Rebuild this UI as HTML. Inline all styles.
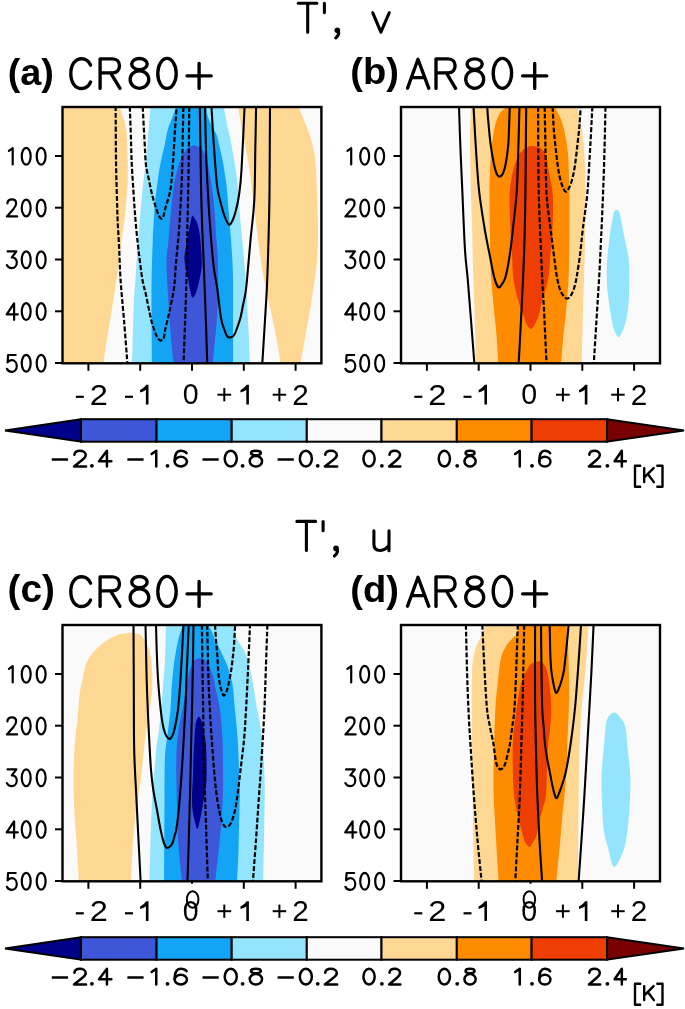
<!DOCTYPE html>
<html><head><meta charset="utf-8"><style>
html,body{margin:0;padding:0;background:#fff;}
svg{display:block;will-change:transform;}
text{font-family:"Liberation Sans",sans-serif;fill:#000;}
.sl{fill:none;stroke:#000;stroke-width:2.1;stroke-linejoin:round;}
.dl{fill:none;stroke:#000;stroke-width:2.2;stroke-dasharray:4.9,2.0;}
.ts{fill:none;stroke:#000;stroke-width:3.1;stroke-linecap:round;}
.ys{fill:none;stroke:#000;stroke-width:2.2;stroke-linecap:round;stroke-linejoin:round;}
.ns{fill:none;stroke:#000;stroke-width:3.35;stroke-linecap:round;stroke-linejoin:round;}
.ks{fill:none;stroke:#000;stroke-width:2.4;stroke-linecap:round;stroke-linejoin:round;}
.fr{fill:none;stroke:#000;stroke-width:2.4;}
.tk{stroke:#000;stroke-width:2;}
.cb{stroke:#000;stroke-width:2;stroke-linejoin:miter;}
.yl{font-size:25px;text-anchor:end;}
.xl{font-size:28px;}
.cl{font-size:21px;}
.kl{font-size:21px;}
.tt{font-size:44px;}
.pl{font-size:37px;font-weight:bold;}
.pn{font-size:42px;}
</style></head><body>
<svg width="685" height="1009" viewBox="0 0 685 1009">
<clipPath id="ca"><rect x="62.5" y="107.0" width="258.9" height="256.3"/></clipPath>
<rect x="62.5" y="107.0" width="258.9" height="256.3" fill="#fafafa"/>
<g clip-path="url(#ca)">
<path d="M40.0,100.0 C40.0,145.0 40.0,325.0 40.0,370.0 L102.8,370.0 C102.9,369.3 102.8,369.5 103.2,366.0 C103.6,362.5 104.0,358.2 105.4,349.0 C106.8,339.8 110.1,320.5 111.6,311.0 C113.1,301.5 113.7,298.0 114.6,292.0 C115.5,286.0 116.2,282.0 117.2,275.0 C118.2,268.0 119.5,257.5 120.5,250.0 C121.5,242.5 122.2,235.8 123.0,230.0 C123.8,224.2 124.5,220.0 125.0,215.0 C125.5,210.0 125.8,205.2 126.3,200.0 C126.8,194.8 127.5,191.2 127.7,184.0 C127.9,176.8 127.9,165.8 127.7,157.0 C127.5,148.2 127.0,137.2 126.4,131.0 C125.8,124.8 125.1,124.0 124.0,120.0 C122.9,116.0 120.5,110.3 119.8,107.0 C119.1,103.7 119.8,101.2 119.8,100.0Z" fill="#fed893"/>
<path d="M150.5,100.0 C150.5,101.2 150.8,101.8 150.5,107.0 C150.2,112.2 149.2,122.2 148.5,131.0 C147.8,139.8 147.1,149.3 146.0,160.0 C144.9,170.7 143.0,185.0 142.0,195.0 C141.0,205.0 140.6,211.5 139.9,220.0 C139.2,228.5 138.4,236.0 137.7,246.0 C137.0,256.0 136.1,271.0 135.5,280.0 C134.9,289.0 134.5,288.5 134.0,300.0 C133.5,311.5 132.9,338.0 132.5,349.0 C132.1,360.0 131.7,362.5 131.5,366.0 C131.3,369.5 131.4,369.3 131.4,370.0 L250.1,370.0 C250.1,369.3 250.2,371.0 250.0,366.0 C249.8,361.0 249.4,349.3 249.0,340.0 C248.6,330.7 248.0,319.2 247.5,310.0 C247.0,300.8 246.7,295.0 246.0,285.0 C245.3,275.0 244.1,260.0 243.2,250.0 C242.3,240.0 241.4,231.7 240.8,225.0 C240.2,218.3 239.9,215.8 239.5,210.0 C239.1,204.2 238.7,195.7 238.2,190.0 C237.7,184.3 237.2,181.2 236.5,176.0 C235.8,170.8 235.0,165.3 233.9,158.8 C232.8,152.3 231.1,142.3 230.0,137.0 C228.9,131.7 228.2,130.5 227.5,127.0 C226.8,123.5 226.2,119.5 225.5,116.0 C224.8,112.5 223.9,108.7 223.6,106.0 C223.3,103.3 223.6,101.0 223.6,100.0Z" fill="#92e5fc"/>
<path d="M176.5,100.0 C176.5,101.0 176.8,104.2 176.5,106.0 C176.2,107.8 175.1,109.4 174.5,111.0 C173.9,112.6 173.7,113.9 173.0,115.7 C172.3,117.5 171.3,120.0 170.5,122.0 C169.7,124.0 169.1,125.2 168.4,127.4 C167.7,129.6 167.1,132.2 166.5,135.0 C165.9,137.8 165.6,140.7 164.9,144.0 C164.2,147.3 163.1,151.5 162.3,155.0 C161.5,158.5 160.9,160.8 160.2,165.0 C159.4,169.2 158.6,174.2 157.8,180.0 C157.0,185.8 156.0,193.0 155.3,200.0 C154.6,207.0 154.1,215.3 153.7,222.0 C153.3,228.7 153.2,228.7 152.8,240.0 C152.4,251.3 151.6,269.0 151.5,290.0 C151.4,311.0 151.9,352.7 152.0,366.0 C152.1,379.3 152.0,369.3 152.0,370.0 L233.0,370.0 C233.0,369.3 233.0,377.7 233.0,366.0 C233.0,354.3 233.0,316.0 233.0,300.0 C233.0,284.0 233.1,280.0 232.8,270.0 C232.5,260.0 231.7,250.0 231.0,240.0 C230.3,230.0 229.2,217.6 228.6,210.0 C228.0,202.4 227.8,199.1 227.4,194.5 C227.0,189.9 226.7,186.6 226.2,182.6 C225.7,178.6 225.1,174.7 224.4,170.7 C223.8,166.7 223.1,162.8 222.3,158.8 C221.5,154.9 220.5,151.0 219.6,147.0 C218.7,143.0 217.9,138.3 216.7,135.0 C215.5,131.7 213.6,129.6 212.5,127.4 C211.4,125.2 210.8,124.0 210.0,122.0 C209.2,120.0 208.2,117.7 207.6,115.7 C207.0,113.7 206.8,111.6 206.5,110.0 C206.2,108.4 205.7,107.7 205.5,106.0 C205.3,104.3 205.5,101.0 205.5,100.0Z" fill="#13a4f6"/>
<path d="M194.0,145.0 C192.7,145.8 188.4,147.0 186.0,150.0 C183.6,153.0 181.3,157.2 179.3,163.0 C177.3,168.8 175.4,177.2 174.0,185.0 C172.6,192.8 171.9,200.8 171.0,210.0 C170.1,219.2 169.2,230.8 168.5,240.0 C167.8,249.2 166.4,253.3 166.5,265.0 C166.6,276.7 168.1,296.3 169.0,310.0 C169.9,323.7 170.9,337.7 171.7,347.0 C172.5,356.3 173.6,362.2 174.0,366.0 C174.4,369.8 174.2,369.3 174.2,370.0 L212.4,370.0 C212.4,369.3 211.8,376.0 212.6,366.0 C213.4,356.0 216.6,326.8 217.5,310.0 C218.4,293.2 218.2,276.7 218.0,265.0 C217.8,253.3 217.1,249.2 216.5,240.0 C215.9,230.8 215.3,219.2 214.5,210.0 C213.7,200.8 212.7,192.8 211.5,185.0 C210.3,177.2 209.0,168.8 207.5,163.0 C206.0,157.2 204.8,153.0 202.5,150.0 C200.2,147.0 195.4,145.8 194.0,145.0Z" fill="#3d57d8"/>
<path d="M192.4,215.4 C193.1,215.1 194.2,217.7 195.0,219.0 C195.8,220.3 196.6,221.1 197.3,223.4 C198.1,225.7 198.9,229.3 199.5,233.0 C200.1,236.7 200.5,240.6 200.9,245.7 C201.3,250.8 201.8,259.1 201.8,263.6 C201.8,268.2 201.2,270.0 200.8,273.0 C200.4,276.0 199.7,278.9 199.1,281.4 C198.5,283.9 198.1,285.9 197.5,288.0 C196.9,290.1 196.3,292.4 195.5,294.0 C194.7,295.6 193.3,298.1 192.4,297.5 C191.5,296.9 190.8,293.1 190.2,290.4 C189.5,287.6 189.1,284.0 188.5,281.0 C187.9,278.0 187.3,276.1 186.6,272.5 C185.9,268.9 184.6,263.1 184.4,259.1 C184.2,255.1 185.2,252.1 185.7,248.4 C186.2,244.7 186.9,240.4 187.5,237.0 C188.1,233.6 188.8,230.6 189.3,227.9 C189.9,225.2 190.3,223.1 190.8,221.0 C191.3,218.9 191.7,215.7 192.4,215.4Z" fill="#00008a"/>
<path d="M238.3,100.0 C238.3,101.2 237.6,101.5 238.3,107.0 C239.0,112.5 240.9,124.2 242.5,133.0 C244.1,141.8 246.4,150.5 248.0,160.0 C249.6,169.5 250.8,180.8 252.0,190.0 C253.2,199.2 254.0,206.7 255.0,215.0 C256.0,223.3 256.9,231.7 258.0,240.0 C259.1,248.3 260.3,257.5 261.5,265.0 C262.7,272.5 263.6,277.8 265.0,285.0 C266.4,292.2 268.4,299.7 270.2,308.0 C272.0,316.3 274.0,325.3 275.8,335.0 C277.6,344.7 280.1,360.2 281.0,366.0 C281.9,371.8 281.4,369.3 281.5,370.0 L299.5,370.0 C299.6,369.3 299.0,371.8 300.0,366.0 C301.0,360.2 303.9,344.7 305.6,335.0 C307.3,325.3 309.0,316.3 310.4,308.0 C311.8,299.7 312.9,292.3 314.0,285.0 C315.1,277.7 316.0,272.3 316.7,264.0 C317.4,255.7 317.9,246.5 318.0,235.0 C318.1,223.5 317.6,207.5 317.2,195.0 C316.8,182.5 316.0,168.0 315.3,160.0 C314.6,152.0 314.1,151.5 313.0,147.0 C311.9,142.5 310.6,137.7 309.0,133.0 C307.4,128.3 305.2,123.3 303.5,119.0 C301.8,114.7 299.8,110.2 299.0,107.0 C298.2,103.8 299.0,101.2 299.0,100.0Z" fill="#fed893"/>
<path d="M199.8,100.0 C199.8,101.0 199.7,97.7 199.8,106.0 C199.9,114.3 200.3,136.8 200.5,150.0 C200.7,163.2 200.7,171.7 201.0,185.0 C201.3,198.3 201.8,216.7 202.3,230.0 C202.8,243.3 203.3,251.7 203.8,265.0 C204.3,278.3 204.9,293.3 205.5,310.0 C206.1,326.7 207.0,355.0 207.3,365.0 C207.6,375.0 207.5,369.2 207.5,370.0" class="sl"/>
<path d="M205.0,100.0 C205.0,101.0 204.8,97.7 205.0,106.0 C205.2,114.3 205.6,136.8 206.0,150.0 C206.4,163.2 206.8,172.5 207.5,185.0 C208.2,197.5 209.0,211.7 210.0,225.0 C211.0,238.3 212.3,254.5 213.5,265.0 C214.7,275.5 215.9,279.2 217.2,288.0 C218.4,296.8 219.8,311.0 221.0,318.0 C222.2,325.0 223.4,326.9 224.5,330.0 C225.6,333.1 226.4,335.6 227.5,336.8 C228.6,338.0 229.9,337.5 231.0,337.3 C232.1,337.1 233.0,336.6 233.8,335.5 C234.6,334.4 234.9,333.9 236.0,331.0 C237.1,328.1 239.3,321.9 240.4,318.0 C241.5,314.1 241.7,311.7 242.5,307.7 C243.3,303.7 244.6,298.3 245.3,294.0 C246.0,289.7 245.9,291.0 246.8,282.0 C247.7,273.0 249.2,253.7 250.5,240.0 C251.8,226.3 253.5,215.0 254.3,200.0 C255.1,185.0 255.0,165.7 255.3,150.0 C255.6,134.3 256.0,114.3 256.1,106.0 C256.2,97.7 256.1,101.0 256.1,100.0" class="sl"/>
<path d="M211.4,100.0 C211.4,101.0 211.1,99.3 211.4,106.0 C211.8,112.7 212.6,126.8 213.5,140.0 C214.4,153.2 215.8,174.7 217.0,185.0 C218.2,195.3 219.2,196.8 220.5,202.0 C221.8,207.2 223.1,212.2 224.5,216.0 C225.9,219.8 227.6,223.8 228.9,224.6 C230.2,225.3 231.3,222.9 232.5,220.5 C233.7,218.1 234.9,214.2 236.0,210.0 C237.1,205.8 238.1,201.7 239.0,195.0 C239.9,188.3 240.6,184.8 241.5,170.0 C242.4,155.2 244.1,117.7 244.6,106.0 C245.1,94.3 244.6,101.0 244.6,100.0" class="sl"/>
<path d="M270.0,100.0 C270.0,101.0 270.1,96.0 270.0,106.0 C269.9,116.0 269.8,144.3 269.7,160.0 C269.6,175.7 269.6,186.7 269.4,200.0 C269.2,213.3 268.9,225.8 268.5,240.0 C268.1,254.2 267.6,271.7 267.0,285.0 C266.4,298.3 265.8,306.7 265.0,320.0 C264.2,333.3 262.7,356.7 262.2,365.0 C261.7,373.3 262.0,369.2 262.0,370.0" class="sl"/>
<path d="M115.6,100.0 C115.6,101.0 115.5,96.0 115.6,106.0 C115.7,116.0 115.8,144.3 116.0,160.0 C116.2,175.7 116.7,190.0 117.0,200.0 C117.3,210.0 117.3,212.5 117.6,220.0 C117.9,227.5 118.5,235.0 119.0,245.0 C119.5,255.0 119.8,267.5 120.6,280.0 C121.4,292.5 122.8,305.8 124.0,320.0 C125.2,334.2 126.9,356.7 127.5,365.0 C128.1,373.3 127.8,369.2 127.8,370.0" class="dl"/>
<path d="M129.8,100.0 C129.8,101.0 129.6,99.3 129.8,106.0 C130.0,112.7 130.7,130.2 131.0,140.0 C131.3,149.8 131.3,155.0 131.8,165.0 C132.3,175.0 133.4,190.8 134.0,200.0 C134.6,209.2 134.8,211.7 135.5,220.0 C136.2,228.3 137.3,240.0 138.5,250.0 C139.7,260.0 141.2,272.5 142.5,280.0 C143.8,287.5 144.6,288.3 146.0,295.0 C147.4,301.7 149.7,313.8 151.2,320.0 C152.7,326.2 153.9,328.9 155.0,332.0 C156.1,335.1 157.0,337.1 158.0,338.5 C159.0,339.9 160.0,340.7 161.0,340.5 C162.0,340.3 163.1,339.4 163.8,337.5 C164.5,335.6 164.4,333.2 165.3,329.0 C166.2,324.8 167.9,318.8 169.3,312.0 C170.8,305.2 172.9,295.8 174.0,288.0 C175.1,280.2 175.0,274.7 175.8,265.0 C176.6,255.3 178.0,243.3 179.0,230.0 C180.0,216.7 181.0,198.3 181.6,185.0 C182.2,171.7 182.2,163.2 182.5,150.0 C182.8,136.8 183.2,114.3 183.4,106.0 C183.6,97.7 183.4,101.0 183.4,100.0" class="dl"/>
<path d="M142.7,100.0 C142.7,101.0 142.4,99.3 142.7,106.0 C143.0,112.7 143.9,130.2 144.5,140.0 C145.1,149.8 145.2,158.3 146.0,165.0 C146.8,171.7 148.0,175.0 149.0,180.0 C150.0,185.0 151.0,190.3 152.2,195.0 C153.4,199.7 154.9,204.6 156.0,208.0 C157.1,211.4 158.0,213.8 158.8,215.5 C159.6,217.2 160.3,218.2 161.0,218.5 C161.7,218.8 162.5,218.7 163.2,217.0 C163.9,215.3 164.4,211.8 165.3,208.4 C166.2,205.0 167.8,200.6 168.8,196.7 C169.8,192.8 170.4,191.1 171.1,185.0 C171.8,178.9 172.5,169.2 173.2,160.0 C173.8,150.8 174.4,139.0 175.0,130.0 C175.6,121.0 176.4,111.0 176.7,106.0 C177.0,101.0 176.7,101.0 176.7,100.0" class="dl"/>
<path d="M189.2,100.0 C189.2,101.0 189.3,97.7 189.2,106.0 C189.1,114.3 189.0,136.8 188.8,150.0 C188.7,163.2 188.6,171.7 188.3,185.0 C188.1,198.3 187.6,216.7 187.3,230.0 C187.1,243.3 187.1,251.7 186.8,265.0 C186.5,278.3 186.1,293.3 185.5,310.0 C184.9,326.7 183.9,355.0 183.5,365.0 C183.1,375.0 183.3,369.2 183.3,370.0" class="dl"/>
</g>
<rect x="62.5" y="107.0" width="258.9" height="256.3" class="fr"/>
<clipPath id="cb"><rect x="401.0" y="107.0" width="259.0" height="256.3"/></clipPath>
<rect x="401.0" y="107.0" width="259.0" height="256.3" fill="#fafafa"/>
<g clip-path="url(#cb)">
<path d="M471.0,100.0 C471.0,101.2 471.2,100.3 471.0,107.0 C470.8,113.7 470.0,125.3 470.0,140.0 C470.0,154.7 470.6,180.0 471.0,195.0 C471.4,210.0 471.9,217.5 472.2,230.0 C472.5,242.5 472.6,256.7 473.0,270.0 C473.4,283.3 474.0,294.0 474.5,310.0 C475.0,326.0 475.7,356.0 476.0,366.0 C476.3,376.0 476.1,369.3 476.1,370.0 L581.6,370.0 C581.6,369.3 581.5,376.0 581.7,366.0 C581.9,356.0 582.6,324.3 583.0,310.0 C583.4,295.7 583.7,291.7 584.0,280.0 C584.3,268.3 584.8,254.2 585.0,240.0 C585.2,225.8 585.6,208.8 585.5,195.0 C585.4,181.2 585.2,167.7 584.6,157.0 C584.0,146.3 583.2,139.3 582.0,131.0 C580.8,122.7 578.2,112.2 577.5,107.0 C576.8,101.8 577.5,101.2 577.5,100.0Z" fill="#fed893"/>
<path d="M507.0,100.0 C506.8,101.2 507.2,104.8 506.0,107.0 C504.8,109.2 501.8,110.0 500.0,113.0 C498.2,116.0 496.5,119.8 495.2,125.0 C493.9,130.2 492.9,136.5 492.0,144.0 C491.1,151.5 490.4,161.5 490.0,170.0 C489.6,178.5 489.5,183.3 489.5,195.0 C489.5,206.7 489.8,226.7 490.0,240.0 C490.2,253.3 490.3,263.3 491.0,275.0 C491.7,286.7 493.1,300.0 494.0,310.0 C494.9,320.0 495.8,325.7 496.5,335.0 C497.2,344.3 498.1,360.2 498.5,366.0 C498.9,371.8 498.7,369.3 498.7,370.0 L560.8,370.0 C560.8,369.3 560.6,371.0 561.0,366.0 C561.4,361.0 562.2,348.5 563.0,340.0 C563.8,331.5 564.8,325.0 565.7,315.0 C566.6,305.0 567.9,290.8 568.5,280.0 C569.1,269.2 569.1,261.7 569.3,250.0 C569.5,238.3 569.6,222.5 569.6,210.0 C569.6,197.5 569.3,184.8 569.0,175.0 C568.7,165.2 568.5,158.3 567.7,151.0 C566.9,143.7 565.6,136.5 564.4,131.0 C563.2,125.5 562.0,122.0 560.4,118.0 C558.8,114.0 555.9,110.0 555.0,107.0 C554.1,104.0 555.0,101.2 555.0,100.0Z" fill="#ff8c00"/>
<path d="M530.9,146.0 C533.7,145.7 537.5,146.5 540.0,148.0 C542.5,149.5 544.6,151.2 546.0,155.0 C547.4,158.8 547.7,165.7 548.6,170.7 C549.5,175.7 550.8,180.1 551.5,185.0 C552.2,189.9 552.8,192.7 553.0,200.0 C553.2,207.3 552.9,219.8 552.5,229.0 C552.1,238.2 551.2,246.5 550.5,255.0 C549.8,263.5 549.4,272.3 548.0,280.0 C546.6,287.7 543.5,295.3 542.0,301.0 C540.5,306.7 540.2,310.6 539.0,314.4 C537.8,318.2 536.4,321.6 535.0,324.0 C533.6,326.4 532.3,329.0 530.9,329.0 C529.5,329.0 527.8,326.4 526.5,324.0 C525.2,321.6 524.4,318.2 523.0,314.4 C521.6,310.6 520.0,306.7 518.4,301.0 C516.8,295.3 514.6,287.7 513.5,280.0 C512.4,272.3 512.5,263.5 512.0,255.0 C511.5,246.5 510.9,238.2 510.5,229.0 C510.1,219.8 509.5,207.3 509.5,200.0 C509.5,192.7 509.9,189.9 510.5,185.0 C511.1,180.1 511.9,175.3 513.1,170.7 C514.3,166.1 515.9,161.0 517.5,157.6 C519.1,154.2 520.8,151.9 523.0,150.0 C525.2,148.1 528.1,146.3 530.9,146.0Z" fill="#ef3e04"/>
<path d="M616.3,210.2 C617.0,210.0 617.6,210.0 618.2,210.6 C618.8,211.2 619.2,212.1 619.8,214.0 C620.3,215.9 621.0,219.3 621.5,222.0 C622.0,224.7 622.3,226.5 623.0,230.0 C623.7,233.5 624.6,238.7 625.5,243.0 C626.4,247.3 627.7,251.8 628.3,256.0 C628.9,260.2 629.1,263.2 629.2,268.0 C629.4,272.8 629.3,279.4 629.2,285.0 C629.1,290.6 629.1,296.4 628.8,301.3 C628.5,306.2 627.9,310.3 627.2,314.4 C626.5,318.5 625.5,322.9 624.5,326.0 C623.5,329.1 622.5,331.1 621.5,333.0 C620.5,334.9 619.6,337.4 618.6,337.4 C617.6,337.4 616.4,334.7 615.5,333.0 C614.6,331.3 614.0,330.1 613.2,327.0 C612.4,323.9 611.5,318.7 610.8,314.4 C610.1,310.1 609.4,306.2 608.8,301.3 C608.2,296.4 607.3,290.2 607.0,285.0 C606.7,279.8 606.7,274.9 606.8,270.0 C606.9,265.1 607.1,260.4 607.5,255.7 C607.9,251.0 608.5,246.3 609.0,242.0 C609.5,237.7 609.9,233.8 610.5,230.0 C611.1,226.2 611.9,222.1 612.5,219.0 C613.1,215.9 613.6,213.0 614.2,211.5 C614.8,210.0 615.6,210.3 616.3,210.2Z" fill="#92e5fc"/>
<path d="M459.0,100.0 C459.0,101.0 458.8,97.7 459.0,106.0 C459.2,114.3 459.9,135.2 460.5,150.0 C461.1,164.8 461.8,178.3 462.5,195.0 C463.2,211.7 464.1,235.8 465.0,250.0 C465.9,264.2 466.8,268.3 467.8,280.0 C468.8,291.7 469.9,305.8 471.0,320.0 C472.1,334.2 473.9,356.7 474.5,365.0 C475.1,373.3 474.7,369.2 474.7,370.0" class="sl"/>
<path d="M473.5,100.0 C473.5,101.0 473.1,97.7 473.5,106.0 C473.9,114.3 475.1,136.0 476.0,150.0 C476.9,164.0 477.6,176.8 479.0,190.0 C480.4,203.2 482.9,218.0 484.7,229.0 C486.5,240.0 488.5,248.8 489.9,256.0 C491.3,263.2 492.0,267.5 493.0,272.0 C494.0,276.5 495.0,280.4 496.0,283.0 C497.0,285.6 498.0,287.3 499.0,287.5 C500.0,287.7 500.9,285.8 502.0,284.0 C503.1,282.2 504.2,281.7 505.5,277.0 C506.8,272.3 508.4,264.0 509.6,256.0 C510.8,248.0 511.8,239.2 512.9,229.0 C514.0,218.8 515.6,206.5 516.5,195.0 C517.4,183.5 517.5,174.8 518.0,160.0 C518.5,145.2 519.2,116.0 519.5,106.0 C519.8,96.0 519.5,101.0 519.5,100.0" class="sl"/>
<path d="M487.3,100.0 C487.3,101.0 487.2,103.0 487.3,106.0 C487.4,109.0 487.4,111.6 488.0,118.0 C488.6,124.4 489.6,136.7 490.6,144.4 C491.6,152.1 492.9,159.2 493.9,164.0 C494.9,168.8 495.6,171.2 496.5,173.3 C497.4,175.4 498.2,176.3 499.1,176.6 C500.0,176.9 501.3,175.8 502.0,175.0 C502.7,174.2 502.9,173.8 503.5,172.0 C504.1,170.2 504.9,168.6 505.7,164.0 C506.5,159.4 507.7,152.1 508.3,144.4 C508.9,136.7 509.1,124.4 509.4,118.0 C509.6,111.6 509.7,109.0 509.8,106.0 C509.9,103.0 509.8,101.0 509.8,100.0" class="sl"/>
<path d="M526.2,100.0 C526.2,101.0 526.3,97.7 526.2,106.0 C526.1,114.3 525.9,135.2 525.8,150.0 C525.7,164.8 525.6,180.0 525.4,195.0 C525.2,210.0 524.9,225.8 524.5,240.0 C524.1,254.2 523.6,266.7 523.0,280.0 C522.4,293.3 521.7,305.8 521.0,320.0 C520.3,334.2 519.0,356.7 518.6,365.0 C518.2,373.3 518.4,369.2 518.4,370.0" class="sl"/>
<path d="M538.1,100.0 C538.1,101.0 538.1,97.7 538.1,106.0 C538.1,114.3 538.2,135.2 538.3,150.0 C538.4,164.8 538.4,180.0 538.8,195.0 C539.2,210.0 539.9,225.8 540.5,240.0 C541.1,254.2 541.6,266.7 542.3,280.0 C543.0,293.3 543.8,305.8 544.5,320.0 C545.2,334.2 546.2,356.7 546.6,365.0 C547.0,373.3 546.8,369.2 546.8,370.0" class="dl"/>
<path d="M544.7,100.0 C544.7,101.0 544.6,97.7 544.7,106.0 C544.8,114.3 545.2,135.2 545.5,150.0 C545.8,164.8 545.8,181.8 546.6,195.0 C547.5,208.2 549.3,218.2 550.6,229.0 C551.9,239.8 553.4,251.5 554.5,260.0 C555.6,268.5 556.4,274.7 557.5,280.0 C558.6,285.3 559.4,288.9 561.0,292.0 C562.6,295.1 565.2,298.4 567.0,298.6 C568.8,298.9 570.7,295.8 572.0,293.5 C573.3,291.2 574.2,288.1 575.0,285.0 C575.8,281.9 576.2,280.0 577.0,275.0 C577.8,270.0 579.0,262.7 580.0,255.0 C581.0,247.3 581.6,239.0 582.8,229.0 C584.0,219.0 586.1,206.5 587.2,195.0 C588.3,183.5 588.6,174.8 589.5,160.0 C590.4,145.2 591.9,116.0 592.4,106.0 C592.9,96.0 592.4,101.0 592.4,100.0" class="dl"/>
<path d="M552.6,100.0 C552.6,101.0 552.5,101.8 552.6,106.0 C552.8,110.2 553.1,118.7 553.5,125.0 C553.9,131.3 554.4,136.4 555.2,144.0 C556.0,151.6 557.4,163.9 558.5,170.7 C559.6,177.5 560.8,181.5 562.0,185.0 C563.2,188.5 564.5,191.4 565.7,191.7 C567.0,192.0 568.4,189.3 569.5,187.0 C570.6,184.7 571.6,181.7 572.5,178.0 C573.4,174.3 574.2,170.7 575.0,165.0 C575.8,159.3 576.8,150.7 577.5,144.0 C578.2,137.3 579.0,131.3 579.5,125.0 C580.0,118.7 580.5,110.2 580.7,106.0 C580.9,101.8 580.7,101.0 580.7,100.0" class="dl"/>
<path d="M605.5,100.0 C605.5,101.0 605.7,97.7 605.5,106.0 C605.3,114.3 604.9,135.2 604.5,150.0 C604.1,164.8 603.6,180.0 603.0,195.0 C602.4,210.0 601.7,225.8 601.0,240.0 C600.3,254.2 599.8,266.7 599.0,280.0 C598.2,293.3 597.4,305.8 596.5,320.0 C595.6,334.2 594.2,356.7 593.7,365.0 C593.2,373.3 593.5,369.2 593.5,370.0" class="dl"/>
</g>
<rect x="401.0" y="107.0" width="259.0" height="256.3" class="fr"/>
<clipPath id="cc"><rect x="62.5" y="625.0" width="258.9" height="256.3"/></clipPath>
<rect x="62.5" y="625.0" width="258.9" height="256.3" fill="#fafafa"/>
<g clip-path="url(#cc)">
<path d="M130.5,632.8 C132.0,632.8 133.3,632.8 135.0,633.2 C136.7,633.6 138.9,633.3 140.8,635.1 C142.8,636.9 145.2,641.2 146.7,643.9 C148.2,646.6 148.8,647.6 149.6,651.2 C150.4,654.9 151.3,660.9 151.8,665.8 C152.3,670.7 152.5,675.5 152.5,680.4 C152.5,685.3 152.3,690.1 151.8,695.0 C151.3,699.9 150.3,705.1 149.6,709.6 C148.9,714.1 148.2,717.8 147.5,722.0 C146.8,726.2 146.0,731.0 145.5,735.0 C145.0,739.0 145.0,739.3 144.3,746.0 C143.6,752.7 142.1,767.7 141.3,775.0 C140.5,782.3 140.0,785.3 139.3,790.0 C138.6,794.7 137.8,797.2 137.0,803.0 C136.2,808.8 135.2,817.2 134.5,825.0 C133.8,832.8 133.1,840.2 132.5,850.0 C131.9,859.8 131.2,877.3 131.0,884.0 C130.8,890.7 139.7,889.0 131.0,890.0 C122.3,891.0 87.7,891.0 79.0,890.0 C70.3,889.0 79.4,892.2 79.0,884.0 C78.6,875.8 77.3,853.5 76.5,841.0 C75.7,828.5 74.7,819.7 74.2,809.0 C73.7,798.3 73.5,786.8 73.5,777.0 C73.5,767.2 74.1,757.8 74.5,750.0 C74.9,742.2 75.5,734.7 76.0,730.0 C76.5,725.3 76.7,727.8 77.3,722.0 C77.9,716.2 78.7,701.9 79.5,695.0 C80.3,688.1 81.4,685.3 82.4,680.4 C83.4,675.5 84.2,669.7 85.4,665.8 C86.6,661.9 88.0,659.7 89.7,657.0 C91.4,654.3 92.9,652.4 95.6,649.7 C98.3,647.0 102.1,643.4 105.8,641.0 C109.5,638.6 114.1,636.4 117.5,635.1 C120.9,633.8 123.8,633.6 126.0,633.2 C128.2,632.8 129.0,632.8 130.5,632.8Z" fill="#fed893"/>
<path d="M166.0,618.0 C166.0,619.2 166.2,618.0 166.0,625.0 C165.8,632.0 165.5,650.2 165.0,660.0 C164.5,669.8 163.8,676.5 163.2,684.0 C162.6,691.5 162.2,697.3 161.5,705.0 C160.8,712.7 159.8,723.3 159.0,730.0 C158.2,736.7 157.3,740.2 156.7,745.0 C156.1,749.8 155.9,753.2 155.4,759.0 C154.9,764.8 154.1,772.3 153.5,780.0 C152.9,787.7 152.3,795.0 151.8,805.0 C151.3,815.0 150.9,826.8 150.5,840.0 C150.1,853.2 149.7,875.7 149.5,884.0 C149.3,892.3 149.5,889.0 149.5,890.0 L263.2,890.0 C263.2,889.0 263.1,892.3 263.2,884.0 C263.3,875.7 263.8,853.2 264.0,840.0 C264.2,826.8 264.5,815.0 264.6,805.0 C264.7,795.0 264.8,788.9 264.6,780.0 C264.4,771.1 263.8,759.9 263.2,751.6 C262.6,743.3 261.9,736.6 261.0,730.0 C260.1,723.4 259.3,721.1 257.7,712.0 C256.1,702.9 253.4,685.0 251.4,675.5 C249.4,666.0 247.6,659.7 245.9,654.7 C244.2,649.7 242.7,648.5 241.0,645.5 C239.3,642.5 237.1,640.4 236.0,637.0 C234.9,633.6 234.8,628.2 234.5,625.0 C234.2,621.8 234.5,619.2 234.5,618.0Z" fill="#92e5fc"/>
<path d="M182.8,618.0 C182.8,619.2 183.4,622.2 182.8,625.0 C182.2,627.8 180.5,631.5 179.5,635.0 C178.5,638.5 177.7,641.8 176.9,646.0 C176.1,650.2 175.2,655.6 174.5,660.0 C173.8,664.4 173.5,667.6 173.0,672.6 C172.5,677.6 171.9,683.8 171.5,690.0 C171.1,696.2 171.1,702.5 170.4,710.0 C169.7,717.5 168.4,727.2 167.5,735.0 C166.6,742.8 165.5,746.2 165.0,757.0 C164.5,767.8 164.6,778.8 164.5,800.0 C164.4,821.2 164.2,869.0 164.2,884.0 C164.1,899.0 164.2,889.0 164.2,890.0 L236.9,890.0 C236.9,889.0 236.6,890.7 236.9,884.0 C237.2,877.3 238.1,863.2 238.5,850.0 C238.9,836.8 239.4,815.0 239.6,805.0 C239.8,795.0 240.1,800.0 239.8,790.0 C239.5,780.0 238.6,756.7 238.0,745.0 C237.4,733.3 236.6,726.7 236.0,720.0 C235.4,713.3 235.0,710.7 234.5,705.0 C234.0,699.3 233.5,690.8 232.8,686.0 C232.1,681.2 231.4,679.3 230.5,676.0 C229.6,672.7 228.7,669.2 227.5,666.0 C226.3,662.8 225.0,660.3 223.5,657.0 C222.0,653.7 219.8,649.2 218.3,646.0 C216.8,642.8 215.7,640.7 214.5,638.0 C213.3,635.3 212.1,632.2 211.0,630.0 C209.9,627.8 208.5,627.0 208.0,625.0 C207.5,623.0 208.0,619.2 208.0,618.0Z" fill="#13a4f6"/>
<path d="M200.0,658.0 C199.0,658.5 195.8,658.6 194.0,661.0 C192.2,663.4 190.7,667.8 189.4,672.6 C188.1,677.4 187.2,683.8 186.0,690.0 C184.8,696.2 183.8,703.3 182.5,710.0 C181.2,716.7 179.5,722.1 178.5,730.0 C177.5,737.9 176.6,745.9 176.3,757.6 C176.0,769.3 176.6,785.8 176.9,800.0 C177.2,814.2 177.3,828.6 178.2,842.6 C179.1,856.6 181.5,876.1 182.2,884.0 C182.9,891.9 182.3,889.0 182.3,890.0 L214.9,890.0 C214.9,889.0 214.2,891.9 215.0,884.0 C215.8,876.1 218.5,853.3 219.6,842.6 C220.7,831.9 220.9,827.9 221.5,820.0 C222.1,812.1 222.7,803.3 222.9,795.0 C223.2,786.7 223.1,779.2 223.0,770.0 C222.9,760.8 223.0,750.0 222.5,740.0 C222.0,730.0 221.1,718.3 220.0,710.0 C218.9,701.7 217.4,696.2 216.0,690.0 C214.6,683.8 213.5,677.4 211.8,672.6 C210.1,667.8 208.0,663.4 206.0,661.0 C204.0,658.6 201.0,658.5 200.0,658.0Z" fill="#3d57d8"/>
<path d="M198.6,716.8 C199.7,716.3 201.1,719.6 202.0,722.0 C202.9,724.4 203.2,727.5 203.9,731.3 C204.6,735.1 205.6,740.6 206.0,745.0 C206.4,749.4 206.4,751.8 206.5,757.6 C206.6,763.4 206.8,773.8 206.5,780.0 C206.2,786.2 205.2,790.0 204.5,795.0 C203.8,800.0 202.8,805.5 202.0,810.0 C201.2,814.5 200.3,818.8 199.5,822.0 C198.7,825.2 198.1,829.0 197.3,829.0 C196.6,829.0 195.8,825.2 195.0,822.0 C194.2,818.8 193.0,814.5 192.5,810.0 C192.0,805.5 191.9,800.8 192.0,795.0 C192.1,789.2 192.8,781.2 193.0,775.0 C193.2,768.8 193.2,763.4 193.4,757.6 C193.6,751.8 194.0,745.4 194.3,740.0 C194.7,734.6 194.8,728.9 195.5,725.0 C196.2,721.1 197.5,717.3 198.6,716.8Z" fill="#00008a"/>
<path d="M133.5,618.0 C133.5,619.0 133.4,612.0 133.5,624.0 C133.6,636.0 133.7,669.0 133.8,690.0 C133.9,711.0 133.8,731.7 134.2,750.0 C134.6,768.3 135.8,785.0 136.5,800.0 C137.2,815.0 137.8,826.2 138.5,840.0 C139.2,853.8 140.3,874.7 140.7,883.0 C141.1,891.3 140.9,888.8 140.9,890.0" class="sl"/>
<path d="M145.5,618.0 C145.5,619.0 145.2,612.0 145.5,624.0 C145.8,636.0 146.3,669.8 147.0,690.0 C147.7,710.2 148.8,731.7 149.5,745.0 C150.2,758.3 150.4,762.5 151.0,770.0 C151.6,777.5 152.3,783.3 153.3,790.0 C154.3,796.7 155.8,803.4 157.0,810.0 C158.2,816.6 159.4,824.0 160.5,829.4 C161.6,834.8 162.8,839.5 163.8,842.6 C164.8,845.7 165.5,847.1 166.5,847.8 C167.5,848.4 169.0,847.3 170.0,846.5 C171.0,845.7 171.8,844.8 172.5,843.0 C173.2,841.2 173.9,838.3 174.5,836.0 C175.1,833.7 175.6,833.4 176.3,829.4 C177.0,825.4 177.9,817.7 178.5,812.0 C179.1,806.3 179.3,803.7 180.0,795.0 C180.7,786.3 181.6,775.0 182.5,760.0 C183.4,745.0 184.8,720.0 185.5,705.0 C186.2,690.0 186.2,683.5 186.8,670.0 C187.4,656.5 188.5,632.7 188.8,624.0 C189.1,615.3 188.8,619.0 188.8,618.0" class="sl"/>
<path d="M156.0,618.0 C156.0,619.0 155.8,615.3 156.0,624.0 C156.2,632.7 156.8,656.0 157.5,670.0 C158.2,684.0 159.5,698.3 160.5,708.0 C161.5,717.7 162.4,723.2 163.5,728.0 C164.6,732.8 165.8,735.2 167.0,737.0 C168.2,738.8 169.3,739.2 170.4,738.5 C171.5,737.8 172.6,735.8 173.5,733.0 C174.4,730.2 175.2,726.2 176.0,722.0 C176.8,717.8 177.4,715.0 178.2,708.0 C178.9,701.0 179.6,694.0 180.5,680.0 C181.4,666.0 183.0,634.3 183.5,624.0 C184.0,613.7 183.5,619.0 183.5,618.0" class="sl"/>
<path d="M193.5,618.0 C193.5,619.0 193.6,615.3 193.5,624.0 C193.4,632.7 193.1,655.7 192.8,670.0 C192.6,684.3 192.3,696.7 192.0,710.0 C191.7,723.3 191.3,735.8 191.0,750.0 C190.7,764.2 190.4,780.0 190.0,795.0 C189.6,810.0 189.2,825.3 188.8,840.0 C188.4,854.7 187.7,874.7 187.4,883.0 C187.2,891.3 187.3,888.8 187.3,890.0" class="sl"/>
<path d="M201.9,618.0 C201.9,619.0 201.8,615.3 201.9,624.0 C202.0,632.7 202.3,655.7 202.5,670.0 C202.7,684.3 202.9,695.0 203.2,710.0 C203.4,725.0 203.7,745.0 204.0,760.0 C204.3,775.0 204.8,786.7 205.2,800.0 C205.6,813.3 206.1,826.2 206.5,840.0 C206.9,853.8 207.6,874.7 207.8,883.0 C208.0,891.3 207.9,888.8 207.9,890.0" class="dl"/>
<path d="M215.0,618.0 C215.0,619.0 214.8,620.3 215.0,624.0 C215.2,627.7 215.6,634.8 216.0,640.0 C216.4,645.2 216.9,649.6 217.3,655.0 C217.7,660.4 217.9,668.1 218.3,672.6 C218.7,677.1 219.1,679.4 219.5,682.0 C219.9,684.6 220.2,686.2 220.9,688.5 C221.6,690.8 222.7,694.9 223.6,695.5 C224.5,696.1 225.5,693.6 226.3,692.0 C227.1,690.4 227.4,688.9 228.2,685.7 C228.9,682.5 230.1,676.9 230.8,672.6 C231.5,668.3 232.0,664.6 232.5,660.0 C233.0,655.4 233.6,651.0 234.0,645.0 C234.4,639.0 235.0,628.5 235.2,624.0 C235.4,619.5 235.2,619.0 235.2,618.0" class="dl"/>
<path d="M207.2,618.0 C207.2,619.0 207.0,615.3 207.2,624.0 C207.4,632.7 207.8,656.0 208.2,670.0 C208.6,684.0 209.1,694.7 209.8,708.0 C210.5,721.3 211.5,736.3 212.5,750.0 C213.5,763.7 214.8,779.7 216.0,790.0 C217.2,800.3 218.4,806.5 219.5,812.0 C220.6,817.5 221.4,820.5 222.5,823.0 C223.6,825.5 224.8,827.0 226.2,827.0 C227.6,827.0 229.5,825.8 231.0,823.0 C232.5,820.2 233.9,814.7 235.0,810.0 C236.1,805.3 236.6,801.7 237.5,795.0 C238.4,788.3 239.4,779.2 240.5,770.0 C241.6,760.8 243.1,749.7 244.0,740.0 C244.9,730.3 245.2,723.7 245.9,712.0 C246.6,700.3 247.3,684.7 248.0,670.0 C248.7,655.3 249.7,632.7 250.0,624.0 C250.3,615.3 250.0,619.0 250.0,618.0" class="dl"/>
<path d="M267.4,618.0 C267.4,619.0 267.7,615.3 267.4,624.0 C267.1,632.7 266.3,655.3 265.8,670.0 C265.3,684.7 265.0,697.0 264.3,712.0 C263.6,727.0 262.4,745.3 261.5,760.0 C260.6,774.7 259.6,786.7 258.7,800.0 C257.8,813.3 257.0,826.2 256.0,840.0 C255.0,853.8 253.4,874.7 252.8,883.0 C252.2,891.3 252.6,888.8 252.6,890.0" class="dl"/>
</g>
<rect x="62.5" y="625.0" width="258.9" height="256.3" class="fr"/>
<clipPath id="cd"><rect x="401.0" y="625.0" width="259.0" height="256.3"/></clipPath>
<rect x="401.0" y="625.0" width="259.0" height="256.3" fill="#fafafa"/>
<g clip-path="url(#cd)">
<path d="M486.0,618.0 C485.9,619.2 486.1,622.5 485.5,625.0 C484.9,627.5 483.1,630.7 482.2,633.0 C481.2,635.3 480.6,637.2 479.8,639.0 C479.0,640.8 477.9,642.3 477.2,644.0 C476.5,645.7 476.0,647.0 475.4,649.0 C474.8,651.0 474.1,653.5 473.6,656.0 C473.1,658.5 472.8,660.0 472.5,664.0 C472.2,668.0 472.0,674.0 471.9,680.0 C471.8,686.0 471.7,693.3 471.7,700.0 C471.7,706.7 471.8,710.0 471.9,720.0 C472.0,730.0 472.1,747.5 472.2,760.0 C472.3,772.5 472.4,781.7 472.6,795.0 C472.8,808.3 473.1,825.2 473.3,840.0 C473.5,854.8 473.9,875.7 474.0,884.0 C474.1,892.3 474.0,889.0 474.0,890.0 L577.8,890.0 C577.8,889.0 577.7,892.3 577.8,884.0 C577.9,875.7 578.1,854.8 578.2,840.0 C578.4,825.2 578.5,810.0 578.7,795.0 C578.9,780.0 579.0,764.2 579.5,750.0 C580.0,735.8 580.8,720.8 581.5,710.0 C582.2,699.2 583.2,693.5 584.0,685.0 C584.8,676.5 585.8,666.5 586.4,659.0 C587.0,651.5 587.1,645.7 587.5,640.0 C587.9,634.3 588.3,628.7 588.5,625.0 C588.7,621.3 588.5,619.2 588.5,618.0Z" fill="#fed893"/>
<path d="M519.0,618.0 C518.9,619.2 518.9,622.3 518.5,625.0 C518.1,627.7 517.8,631.5 516.5,634.0 C515.2,636.5 512.8,638.0 511.0,640.0 C509.2,642.0 507.7,643.1 506.0,646.3 C504.3,649.5 502.1,652.8 500.7,659.4 C499.3,666.0 498.3,677.6 497.4,686.0 C496.5,694.4 495.9,699.3 495.3,710.0 C494.7,720.7 494.3,736.7 494.0,750.0 C493.7,763.3 493.2,776.7 493.5,790.0 C493.8,803.3 494.6,814.3 495.5,830.0 C496.4,845.7 498.2,874.0 498.8,884.0 C499.4,894.0 499.0,889.0 499.0,890.0 L556.0,890.0 C556.0,889.0 555.3,893.0 556.1,884.0 C556.9,875.0 559.6,847.5 560.7,836.0 C561.8,824.5 561.9,821.8 562.5,815.0 C563.1,808.2 563.8,802.5 564.5,795.0 C565.2,787.5 566.0,779.2 566.5,770.0 C567.0,760.8 567.1,750.0 567.5,740.0 C567.9,730.0 568.5,718.3 568.8,710.0 C569.1,701.7 569.2,698.3 569.2,690.0 C569.2,681.7 568.8,667.5 568.6,660.0 C568.4,652.5 568.3,650.8 568.0,645.0 C567.7,639.2 566.8,629.5 566.6,625.0 C566.4,620.5 566.6,619.2 566.6,618.0Z" fill="#ff8c00"/>
<path d="M537.5,661.4 C539.5,661.2 541.3,661.1 543.0,663.0 C544.7,664.9 546.4,668.1 547.6,672.6 C548.8,677.1 549.4,683.8 550.0,690.0 C550.6,696.2 551.3,703.3 551.3,710.0 C551.3,716.7 550.5,724.2 550.0,730.0 C549.5,735.8 548.7,738.3 548.2,745.0 C547.7,751.7 547.4,761.7 547.0,770.0 C546.6,778.3 546.7,788.7 546.0,795.0 C545.3,801.3 544.0,804.2 543.0,808.0 C542.0,811.8 541.1,813.3 540.0,818.0 C538.9,822.7 537.5,831.8 536.2,836.0 C535.0,840.2 533.6,841.2 532.5,843.0 C531.4,844.8 530.8,847.2 529.5,847.0 C528.2,846.8 526.1,843.8 525.0,842.0 C523.9,840.2 524.3,840.3 523.1,836.0 C521.9,831.7 519.3,822.8 517.8,816.0 C516.3,809.2 514.8,802.7 514.0,795.0 C513.2,787.3 513.0,779.2 512.8,770.0 C512.6,760.8 512.4,750.0 513.0,740.0 C513.6,730.0 515.3,719.0 516.5,710.0 C517.7,701.0 518.9,692.2 520.4,686.0 C521.9,679.8 523.9,676.3 525.7,672.6 C527.5,668.9 529.0,665.9 531.0,664.0 C533.0,662.1 535.5,661.6 537.5,661.4Z" fill="#ef3e04"/>
<path d="M614.2,712.6 C616.4,712.6 618.9,715.7 620.8,718.2 C622.7,720.7 624.4,722.9 625.5,727.6 C626.6,732.3 626.6,738.5 627.4,746.4 C628.2,754.2 629.8,765.3 630.2,774.7 C630.6,784.1 630.3,793.5 629.8,802.9 C629.3,812.3 628.4,823.3 627.4,831.1 C626.4,838.9 625.8,843.9 623.6,849.9 C621.4,855.9 616.7,866.9 614.2,866.9 C611.7,866.9 610.3,855.9 608.6,849.9 C606.9,843.9 605.0,838.9 603.9,831.1 C602.8,823.3 602.4,812.3 602.0,802.9 C601.6,793.5 601.3,784.1 601.6,774.7 C601.9,765.3 603.2,754.2 603.9,746.4 C604.6,738.5 605.1,732.3 605.7,727.6 C606.3,722.9 606.2,720.7 607.6,718.2 C609.0,715.7 612.0,712.6 614.2,712.6Z" fill="#92e5fc"/>
<path d="M535.1,618.0 C535.1,619.0 535.1,615.3 535.1,624.0 C535.1,632.7 535.0,655.7 535.0,670.0 C535.0,684.3 535.0,696.7 535.2,710.0 C535.4,723.3 535.6,735.8 536.0,750.0 C536.4,764.2 536.7,780.0 537.3,795.0 C537.9,810.0 538.7,825.3 539.5,840.0 C540.3,854.7 541.7,874.7 542.2,883.0 C542.7,891.3 542.3,888.8 542.3,890.0" class="sl"/>
<path d="M541.0,618.0 C541.0,619.0 540.9,615.3 541.0,624.0 C541.1,632.7 541.3,656.0 541.5,670.0 C541.7,684.0 541.9,698.8 542.2,708.0 C542.5,717.2 543.0,719.0 543.5,725.0 C544.0,731.0 544.4,738.5 545.0,744.0 C545.6,749.5 546.2,753.5 547.0,758.0 C547.8,762.5 548.7,766.3 549.6,771.0 C550.5,775.7 551.4,781.5 552.5,786.0 C553.6,790.5 554.9,797.0 556.1,798.0 C557.3,799.0 558.4,794.7 559.5,792.0 C560.6,789.3 561.9,785.5 563.0,782.0 C564.1,778.5 564.7,777.3 566.0,771.0 C567.3,764.7 569.1,754.5 570.6,744.0 C572.1,733.5 573.8,720.3 575.0,708.0 C576.2,695.7 577.0,684.0 578.0,670.0 C579.0,656.0 580.6,632.7 581.1,624.0 C581.6,615.3 581.1,619.0 581.1,618.0" class="sl"/>
<path d="M549.6,618.0 C549.6,619.0 549.5,620.3 549.6,624.0 C549.7,627.7 549.9,634.2 550.0,640.0 C550.1,645.8 550.2,653.7 550.5,659.0 C550.8,664.3 551.1,668.5 551.5,672.0 C551.9,675.5 552.3,677.3 552.8,680.0 C553.3,682.7 553.8,685.9 554.3,688.0 C554.8,690.1 555.5,692.4 556.1,692.8 C556.7,693.2 557.4,691.7 558.0,690.5 C558.6,689.3 559.3,687.4 560.0,685.5 C560.7,683.6 561.3,681.6 562.0,679.0 C562.7,676.4 563.5,673.3 564.0,670.0 C564.5,666.7 564.8,664.0 565.3,659.0 C565.8,654.0 566.7,645.8 567.2,640.0 C567.8,634.2 568.4,627.7 568.6,624.0 C568.8,620.3 568.6,619.0 568.6,618.0" class="sl"/>
<path d="M593.6,618.0 C593.6,619.0 594.0,615.3 593.6,624.0 C593.2,632.7 592.2,655.7 591.5,670.0 C590.8,684.3 590.0,696.7 589.3,710.0 C588.5,723.3 587.8,735.8 587.0,750.0 C586.2,764.2 585.3,780.0 584.4,795.0 C583.5,810.0 582.5,825.3 581.5,840.0 C580.5,854.7 579.0,874.7 578.5,883.0 C578.0,891.3 578.4,888.8 578.4,890.0" class="sl"/>
<path d="M465.9,618.0 C465.9,619.0 465.7,615.3 465.9,624.0 C466.1,632.7 466.6,655.7 467.0,670.0 C467.4,684.3 467.9,696.7 468.5,710.0 C469.1,723.3 469.9,735.8 470.8,750.0 C471.7,764.2 472.7,780.0 473.8,795.0 C474.9,810.0 476.2,825.3 477.5,840.0 C478.8,854.7 481.0,874.7 481.7,883.0 C482.4,891.3 481.9,888.8 481.9,890.0" class="dl"/>
<path d="M482.3,618.0 C482.3,619.0 481.9,615.3 482.3,624.0 C482.7,632.7 483.7,656.0 484.5,670.0 C485.3,684.0 486.0,698.5 486.9,708.0 C487.8,717.5 488.9,721.0 490.0,727.0 C491.1,733.0 492.7,739.2 493.5,744.0 C494.3,748.8 494.4,752.4 495.0,756.0 C495.6,759.6 496.1,763.3 497.0,765.5 C497.9,767.7 499.4,769.4 500.7,769.4 C501.9,769.4 503.4,767.6 504.5,765.5 C505.6,763.4 506.3,759.6 507.0,757.0 C507.7,754.4 508.2,752.2 508.7,750.0 C509.2,747.8 509.3,748.2 509.9,744.0 C510.5,739.8 511.7,731.0 512.5,725.0 C513.3,719.0 513.9,717.2 514.5,708.0 C515.1,698.8 515.7,684.0 516.2,670.0 C516.8,656.0 517.5,632.7 517.8,624.0 C518.1,615.3 517.8,619.0 517.8,618.0" class="dl"/>
<path d="M524.2,618.0 C524.2,619.0 524.4,615.3 524.2,624.0 C524.1,632.7 523.6,655.7 523.3,670.0 C523.0,684.3 522.8,696.7 522.4,710.0 C522.0,723.3 521.6,735.8 521.2,750.0 C520.8,764.2 520.4,780.0 519.8,795.0 C519.2,810.0 518.3,825.3 517.5,840.0 C516.7,854.7 515.6,874.7 515.2,883.0 C514.8,891.3 515.1,888.8 515.1,890.0" class="dl"/>
</g>
<rect x="401.0" y="625.0" width="259.0" height="256.3" class="fr"/>
<line x1="55.0" y1="156.0" x2="62.5" y2="156.0" class="tk"/>
<ellipse cx="26.20" cy="156.25" rx="4.45" ry="8.4" class="ys"/>
<ellipse cx="41.15" cy="156.25" rx="4.45" ry="8.4" class="ys"/>
<path d="M8.9,150.8 L12.7,148.1 V164.5" class="ys"/>
<line x1="55.0" y1="207.7" x2="62.5" y2="207.7" class="tk"/>
<ellipse cx="26.20" cy="207.95" rx="4.45" ry="8.4" class="ys"/>
<ellipse cx="41.15" cy="207.95" rx="4.45" ry="8.4" class="ys"/>
<path d="M7.4,203.4 C7.6,200.9 9.5,199.4 11.9,199.4 C14.4,199.4 16.1,201.1 16.1,203.4 C16.1,205.6 15.0,207.1 13.5,208.9 L6.9,216.4 H17.1" class="ys"/>
<line x1="55.0" y1="259.5" x2="62.5" y2="259.5" class="tk"/>
<ellipse cx="26.20" cy="259.75" rx="4.45" ry="8.4" class="ys"/>
<ellipse cx="41.15" cy="259.75" rx="4.45" ry="8.4" class="ys"/>
<path d="M7.6,251.4 H16.4 L11.8,257.4 C14.8,257.3 16.8,259.5 16.8,262.5 C16.8,265.8 14.6,268.1 11.7,268.1 C9.5,268.1 7.7,266.9 6.9,265.1" class="ys"/>
<line x1="55.0" y1="311.3" x2="62.5" y2="311.3" class="tk"/>
<ellipse cx="26.20" cy="311.55" rx="4.45" ry="8.4" class="ys"/>
<ellipse cx="41.15" cy="311.55" rx="4.45" ry="8.4" class="ys"/>
<path d="M14.1,319.8 V303.4 L6.7,314.3 H17.8" class="ys"/>
<line x1="55.0" y1="363.0" x2="62.5" y2="363.0" class="tk"/>
<ellipse cx="26.20" cy="363.25" rx="4.45" ry="8.4" class="ys"/>
<ellipse cx="41.15" cy="363.25" rx="4.45" ry="8.4" class="ys"/>
<path d="M15.7,355.0 H8.1 L7.6,362.4 C8.7,360.9 10.0,360.1 11.7,360.1 C14.7,360.1 16.8,362.8 16.8,366.1 C16.8,369.5 14.6,371.9 11.6,371.9 C9.4,371.9 7.7,370.6 6.9,368.8" class="ys"/>
<line x1="88.4" y1="363.3" x2="88.4" y2="370.8" class="tk"/>
<line x1="140.2" y1="363.3" x2="140.2" y2="370.8" class="tk"/>
<line x1="192.0" y1="363.3" x2="192.0" y2="370.8" class="tk"/>
<line x1="243.8" y1="363.3" x2="243.8" y2="370.8" class="tk"/>
<line x1="295.6" y1="363.3" x2="295.6" y2="370.8" class="tk"/>
<line x1="393.5" y1="156.0" x2="401.0" y2="156.0" class="tk"/>
<ellipse cx="364.70" cy="156.25" rx="4.45" ry="8.4" class="ys"/>
<ellipse cx="379.65" cy="156.25" rx="4.45" ry="8.4" class="ys"/>
<path d="M347.4,150.8 L351.2,148.1 V164.5" class="ys"/>
<line x1="393.5" y1="207.7" x2="401.0" y2="207.7" class="tk"/>
<ellipse cx="364.70" cy="207.95" rx="4.45" ry="8.4" class="ys"/>
<ellipse cx="379.65" cy="207.95" rx="4.45" ry="8.4" class="ys"/>
<path d="M345.9,203.4 C346.1,200.9 348.0,199.4 350.4,199.4 C352.9,199.4 354.6,201.1 354.6,203.4 C354.6,205.6 353.5,207.1 352.0,208.9 L345.4,216.4 H355.6" class="ys"/>
<line x1="393.5" y1="259.5" x2="401.0" y2="259.5" class="tk"/>
<ellipse cx="364.70" cy="259.75" rx="4.45" ry="8.4" class="ys"/>
<ellipse cx="379.65" cy="259.75" rx="4.45" ry="8.4" class="ys"/>
<path d="M346.1,251.4 H354.9 L350.3,257.4 C353.3,257.3 355.3,259.5 355.3,262.5 C355.3,265.8 353.1,268.1 350.2,268.1 C348.0,268.1 346.2,266.9 345.4,265.1" class="ys"/>
<line x1="393.5" y1="311.3" x2="401.0" y2="311.3" class="tk"/>
<ellipse cx="364.70" cy="311.55" rx="4.45" ry="8.4" class="ys"/>
<ellipse cx="379.65" cy="311.55" rx="4.45" ry="8.4" class="ys"/>
<path d="M352.6,319.8 V303.4 L345.2,314.3 H356.3" class="ys"/>
<line x1="393.5" y1="363.0" x2="401.0" y2="363.0" class="tk"/>
<ellipse cx="364.70" cy="363.25" rx="4.45" ry="8.4" class="ys"/>
<ellipse cx="379.65" cy="363.25" rx="4.45" ry="8.4" class="ys"/>
<path d="M354.2,355.0 H346.6 L346.1,362.4 C347.2,360.9 348.5,360.1 350.2,360.1 C353.2,360.1 355.3,362.8 355.3,366.1 C355.3,369.5 353.1,371.9 350.1,371.9 C347.9,371.9 346.2,370.6 345.4,368.8" class="ys"/>
<line x1="426.9" y1="363.3" x2="426.9" y2="370.8" class="tk"/>
<line x1="478.7" y1="363.3" x2="478.7" y2="370.8" class="tk"/>
<line x1="530.5" y1="363.3" x2="530.5" y2="370.8" class="tk"/>
<line x1="582.3" y1="363.3" x2="582.3" y2="370.8" class="tk"/>
<line x1="634.1" y1="363.3" x2="634.1" y2="370.8" class="tk"/>
<line x1="55.0" y1="674.0" x2="62.5" y2="674.0" class="tk"/>
<ellipse cx="26.20" cy="674.25" rx="4.45" ry="8.4" class="ys"/>
<ellipse cx="41.15" cy="674.25" rx="4.45" ry="8.4" class="ys"/>
<path d="M8.9,668.8 L12.7,666.1 V682.5" class="ys"/>
<line x1="55.0" y1="725.7" x2="62.5" y2="725.7" class="tk"/>
<ellipse cx="26.20" cy="725.95" rx="4.45" ry="8.4" class="ys"/>
<ellipse cx="41.15" cy="725.95" rx="4.45" ry="8.4" class="ys"/>
<path d="M7.4,721.4 C7.6,718.9 9.5,717.4 11.9,717.4 C14.4,717.4 16.1,719.1 16.1,721.4 C16.1,723.6 15.0,725.1 13.5,726.9 L6.9,734.4 H17.1" class="ys"/>
<line x1="55.0" y1="777.5" x2="62.5" y2="777.5" class="tk"/>
<ellipse cx="26.20" cy="777.75" rx="4.45" ry="8.4" class="ys"/>
<ellipse cx="41.15" cy="777.75" rx="4.45" ry="8.4" class="ys"/>
<path d="M7.6,769.4 H16.4 L11.8,775.4 C14.8,775.3 16.8,777.5 16.8,780.5 C16.8,783.8 14.6,786.1 11.7,786.1 C9.5,786.1 7.7,784.9 6.9,783.1" class="ys"/>
<line x1="55.0" y1="829.3" x2="62.5" y2="829.3" class="tk"/>
<ellipse cx="26.20" cy="829.55" rx="4.45" ry="8.4" class="ys"/>
<ellipse cx="41.15" cy="829.55" rx="4.45" ry="8.4" class="ys"/>
<path d="M14.1,837.8 V821.4 L6.7,832.3 H17.8" class="ys"/>
<line x1="55.0" y1="881.0" x2="62.5" y2="881.0" class="tk"/>
<ellipse cx="26.20" cy="881.25" rx="4.45" ry="8.4" class="ys"/>
<ellipse cx="41.15" cy="881.25" rx="4.45" ry="8.4" class="ys"/>
<path d="M15.7,873.0 H8.1 L7.6,880.4 C8.7,878.9 10.0,878.1 11.7,878.1 C14.7,878.1 16.8,880.8 16.8,884.1 C16.8,887.5 14.6,889.9 11.6,889.9 C9.4,889.9 7.7,888.6 6.9,886.8" class="ys"/>
<line x1="88.4" y1="881.3" x2="88.4" y2="888.8" class="tk"/>
<line x1="140.2" y1="881.3" x2="140.2" y2="888.8" class="tk"/>
<line x1="192.0" y1="881.3" x2="192.0" y2="883.8" class="tk"/>
<line x1="243.8" y1="881.3" x2="243.8" y2="888.8" class="tk"/>
<line x1="295.6" y1="881.3" x2="295.6" y2="888.8" class="tk"/>
<line x1="393.5" y1="674.0" x2="401.0" y2="674.0" class="tk"/>
<ellipse cx="364.70" cy="674.25" rx="4.45" ry="8.4" class="ys"/>
<ellipse cx="379.65" cy="674.25" rx="4.45" ry="8.4" class="ys"/>
<path d="M347.4,668.8 L351.2,666.1 V682.5" class="ys"/>
<line x1="393.5" y1="725.7" x2="401.0" y2="725.7" class="tk"/>
<ellipse cx="364.70" cy="725.95" rx="4.45" ry="8.4" class="ys"/>
<ellipse cx="379.65" cy="725.95" rx="4.45" ry="8.4" class="ys"/>
<path d="M345.9,721.4 C346.1,718.9 348.0,717.4 350.4,717.4 C352.9,717.4 354.6,719.1 354.6,721.4 C354.6,723.6 353.5,725.1 352.0,726.9 L345.4,734.4 H355.6" class="ys"/>
<line x1="393.5" y1="777.5" x2="401.0" y2="777.5" class="tk"/>
<ellipse cx="364.70" cy="777.75" rx="4.45" ry="8.4" class="ys"/>
<ellipse cx="379.65" cy="777.75" rx="4.45" ry="8.4" class="ys"/>
<path d="M346.1,769.4 H354.9 L350.3,775.4 C353.3,775.3 355.3,777.5 355.3,780.5 C355.3,783.8 353.1,786.1 350.2,786.1 C348.0,786.1 346.2,784.9 345.4,783.1" class="ys"/>
<line x1="393.5" y1="829.3" x2="401.0" y2="829.3" class="tk"/>
<ellipse cx="364.70" cy="829.55" rx="4.45" ry="8.4" class="ys"/>
<ellipse cx="379.65" cy="829.55" rx="4.45" ry="8.4" class="ys"/>
<path d="M352.6,837.8 V821.4 L345.2,832.3 H356.3" class="ys"/>
<line x1="393.5" y1="881.0" x2="401.0" y2="881.0" class="tk"/>
<ellipse cx="364.70" cy="881.25" rx="4.45" ry="8.4" class="ys"/>
<ellipse cx="379.65" cy="881.25" rx="4.45" ry="8.4" class="ys"/>
<path d="M354.2,873.0 H346.6 L346.1,880.4 C347.2,878.9 348.5,878.1 350.2,878.1 C353.2,878.1 355.3,880.8 355.3,884.1 C355.3,887.5 353.1,889.9 350.1,889.9 C347.9,889.9 346.2,888.6 345.4,886.8" class="ys"/>
<line x1="426.9" y1="881.3" x2="426.9" y2="888.8" class="tk"/>
<line x1="478.7" y1="881.3" x2="478.7" y2="888.8" class="tk"/>
<line x1="530.5" y1="881.3" x2="530.5" y2="883.8" class="tk"/>
<line x1="582.3" y1="881.3" x2="582.3" y2="888.8" class="tk"/>
<line x1="634.1" y1="881.3" x2="634.1" y2="888.8" class="tk"/>
<line x1="75.8" y1="396.8" x2="83.8" y2="396.8" stroke="#000" stroke-width="2.2"/>
<text transform="matrix(0.16264 0 0 0.14500 89.67 404.60)" font-size="200">2</text>
<line x1="125.0" y1="396.8" x2="133.0" y2="396.8" stroke="#000" stroke-width="2.2"/>
<path d="M145.90,404.60 V389.65 C144.30,390.94 141.90,391.93 140.10,392.52 V389.95 C143.10,388.76 144.70,386.78 146.23,384.80 H148.50 V404.60 Z"/>
<text transform="matrix(0.14271 0 0 0.14296 182.76 404.31)" font-size="200">0</text>
<line x1="217.5" y1="394.7" x2="231.2" y2="394.7" stroke="#000" stroke-width="2.0"/><line x1="224.3" y1="388.1" x2="224.3" y2="401.3" stroke="#000" stroke-width="2.0"/>
<path d="M246.30,404.60 V389.65 C244.70,390.94 242.30,391.93 240.50,392.52 V389.95 C243.50,388.76 245.10,386.78 246.63,384.80 H248.90 V404.60 Z"/>
<line x1="272.7" y1="394.7" x2="286.2" y2="394.7" stroke="#000" stroke-width="2.0"/><line x1="279.4" y1="388.1" x2="279.4" y2="401.3" stroke="#000" stroke-width="2.0"/>
<text transform="matrix(0.14835 0 0 0.14500 292.22 404.60)" font-size="200">2</text>
<line x1="414.3" y1="396.8" x2="422.3" y2="396.8" stroke="#000" stroke-width="2.2"/>
<text transform="matrix(0.16264 0 0 0.14500 428.17 404.60)" font-size="200">2</text>
<line x1="463.5" y1="396.8" x2="471.5" y2="396.8" stroke="#000" stroke-width="2.2"/>
<path d="M484.40,404.60 V389.65 C482.80,390.94 480.40,391.93 478.60,392.52 V389.95 C481.60,388.76 483.20,386.78 484.73,384.80 H487.00 V404.60 Z"/>
<text transform="matrix(0.14271 0 0 0.14296 521.26 404.31)" font-size="200">0</text>
<line x1="556.0" y1="394.7" x2="569.7" y2="394.7" stroke="#000" stroke-width="2.0"/><line x1="562.9" y1="388.1" x2="562.9" y2="401.3" stroke="#000" stroke-width="2.0"/>
<path d="M584.80,404.60 V389.65 C583.20,390.94 580.80,391.93 579.00,392.52 V389.95 C582.00,388.76 583.60,386.78 585.13,384.80 H587.40 V404.60 Z"/>
<line x1="611.2" y1="394.7" x2="624.7" y2="394.7" stroke="#000" stroke-width="2.0"/><line x1="618.0" y1="388.1" x2="618.0" y2="401.3" stroke="#000" stroke-width="2.0"/>
<text transform="matrix(0.14835 0 0 0.14500 630.72 404.60)" font-size="200">2</text>
<line x1="75.8" y1="913.3" x2="83.8" y2="913.3" stroke="#000" stroke-width="2.2"/>
<text transform="matrix(0.16264 0 0 0.14500 89.67 921.10)" font-size="200">2</text>
<line x1="125.0" y1="913.3" x2="133.0" y2="913.3" stroke="#000" stroke-width="2.2"/>
<path d="M145.90,921.10 V906.15 C144.30,907.44 141.90,908.43 140.10,909.02 V906.45 C143.10,905.26 144.70,903.28 146.23,901.30 H148.50 V921.10 Z"/>
<text transform="matrix(0.14271 0 0 0.14296 182.76 920.81)" font-size="200">0</text>
<line x1="217.5" y1="911.2" x2="231.2" y2="911.2" stroke="#000" stroke-width="2.0"/><line x1="224.3" y1="904.6" x2="224.3" y2="917.8" stroke="#000" stroke-width="2.0"/>
<path d="M246.30,921.10 V906.15 C244.70,907.44 242.30,908.43 240.50,909.02 V906.45 C243.50,905.26 245.10,903.28 246.63,901.30 H248.90 V921.10 Z"/>
<line x1="272.7" y1="911.2" x2="286.2" y2="911.2" stroke="#000" stroke-width="2.0"/><line x1="279.4" y1="904.6" x2="279.4" y2="917.8" stroke="#000" stroke-width="2.0"/>
<text transform="matrix(0.14835 0 0 0.14500 292.22 921.10)" font-size="200">2</text>
<line x1="414.3" y1="913.3" x2="422.3" y2="913.3" stroke="#000" stroke-width="2.2"/>
<text transform="matrix(0.16264 0 0 0.14500 428.17 921.10)" font-size="200">2</text>
<line x1="463.5" y1="913.3" x2="471.5" y2="913.3" stroke="#000" stroke-width="2.2"/>
<path d="M484.40,921.10 V906.15 C482.80,907.44 480.40,908.43 478.60,909.02 V906.45 C481.60,905.26 483.20,903.28 484.73,901.30 H487.00 V921.10 Z"/>
<text transform="matrix(0.14271 0 0 0.14296 521.26 920.81)" font-size="200">0</text>
<line x1="556.0" y1="911.2" x2="569.7" y2="911.2" stroke="#000" stroke-width="2.0"/><line x1="562.9" y1="904.6" x2="562.9" y2="917.8" stroke="#000" stroke-width="2.0"/>
<path d="M584.80,921.10 V906.15 C583.20,907.44 580.80,908.43 579.00,909.02 V906.45 C582.00,905.26 583.60,903.28 585.13,901.30 H587.40 V921.10 Z"/>
<line x1="611.2" y1="911.2" x2="624.7" y2="911.2" stroke="#000" stroke-width="2.0"/><line x1="618.0" y1="904.6" x2="618.0" y2="917.8" stroke="#000" stroke-width="2.0"/>
<text transform="matrix(0.14835 0 0 0.14500 630.72 921.10)" font-size="200">2</text>
<ellipse cx="192.65" cy="899.5" rx="5.8" ry="8.2" fill="none" stroke="#000" stroke-width="2"/>
<ellipse cx="529.35" cy="899.5" rx="5.8" ry="8.2" fill="none" stroke="#000" stroke-width="2"/>
<path d="M81,419.2 L5,430.4 L81,441.7 Z" fill="#00008a" class="cb"/>
<path d="M607,419.2 L684,430.4 L607,441.7 Z" fill="#780000" class="cb"/>
<rect x="81.0" y="419.2" width="75.6" height="22.5" fill="#3d57d8" class="cb"/>
<rect x="156.6" y="419.2" width="75.1" height="22.5" fill="#13a4f6" class="cb"/>
<rect x="231.7" y="419.2" width="75.1" height="22.5" fill="#92e5fc" class="cb"/>
<rect x="306.8" y="419.2" width="74.7" height="22.5" fill="#fafafa" class="cb"/>
<rect x="381.5" y="419.2" width="75.3" height="22.5" fill="#fed893" class="cb"/>
<rect x="456.8" y="419.2" width="74.8" height="22.5" fill="#ff8c00" class="cb"/>
<rect x="531.6" y="419.2" width="75.4" height="22.5" fill="#ef3e04" class="cb"/>
<line x1="51.8" y1="459.5" x2="68.0" y2="459.5" stroke="#000" stroke-width="2.5"/>
<path d="M74.39,454.74 C74.75,452.23 77.04,450.83 79.93,450.83 C83.18,450.83 85.71,452.39 85.71,455.05 C85.71,457.09 84.39,458.34 82.46,459.75 L74.02,466.47 H86.08" fill="none" stroke="#000" stroke-width="2.5" stroke-linecap="round" stroke-linejoin="round"/>
<path d="M106.93,466.47 V450.83L99.02,461.31 H111.38" fill="none" stroke="#000" stroke-width="2.5" stroke-linecap="round" stroke-linejoin="round"/>
<circle cx="91.9" cy="465.8" r="1.9"/>
<line x1="127.4" y1="459.5" x2="143.6" y2="459.5" stroke="#000" stroke-width="2.5"/>
<path d="M151.65,454.00 L156.25,450.70 V466.60" fill="none" stroke="#000" stroke-width="2.5" stroke-linecap="round" stroke-linejoin="round"/>
<path d="M186.60,453.17 C185.12,451.45 183.27,450.83 180.80,450.83 C177.09,450.83 174.62,454.74 174.62,461.62 " fill="none" stroke="#000" stroke-width="2.5" stroke-linecap="round" stroke-linejoin="round"/><ellipse cx="180.80" cy="461.62" rx="6.17" ry="4.85" fill="none" stroke="#000" stroke-width="2.5" stroke-linecap="round" stroke-linejoin="round"/>
<circle cx="167.5" cy="465.8" r="1.9"/>
<line x1="202.5" y1="459.5" x2="218.7" y2="459.5" stroke="#000" stroke-width="2.5"/>
<ellipse cx="230.75" cy="458.65" rx="6.03" ry="7.82" fill="none" stroke="#000" stroke-width="2.5" stroke-linecap="round" stroke-linejoin="round"/>
<ellipse cx="255.90" cy="453.02" rx="4.94" ry="2.19" fill="none" stroke="#000" stroke-width="2.5" stroke-linecap="round" stroke-linejoin="round"/><ellipse cx="255.90" cy="461.26" rx="6.17" ry="5.21" fill="none" stroke="#000" stroke-width="2.5" stroke-linecap="round" stroke-linejoin="round"/>
<circle cx="242.6" cy="465.8" r="1.9"/>
<line x1="277.6" y1="459.5" x2="293.8" y2="459.5" stroke="#000" stroke-width="2.5"/>
<ellipse cx="305.85" cy="458.65" rx="6.02" ry="7.82" fill="none" stroke="#000" stroke-width="2.5" stroke-linecap="round" stroke-linejoin="round"/>
<path d="M325.20,454.74 C325.57,452.23 327.91,450.83 330.88,450.83 C334.21,450.83 336.80,452.39 336.80,455.05 C336.80,457.09 335.45,458.34 333.47,459.75 L324.83,466.47 H337.18" fill="none" stroke="#000" stroke-width="2.5" stroke-linecap="round" stroke-linejoin="round"/>
<circle cx="317.7" cy="465.8" r="1.9"/>
<ellipse cx="369.05" cy="458.65" rx="5.62" ry="7.82" fill="none" stroke="#000" stroke-width="2.5" stroke-linecap="round" stroke-linejoin="round"/>
<path d="M389.46,454.74 C389.80,452.23 391.94,450.83 394.64,450.83 C397.68,450.83 400.04,452.39 400.04,455.05 C400.04,457.09 398.80,458.34 397.00,459.75 L389.12,466.47 H400.38" fill="none" stroke="#000" stroke-width="2.5" stroke-linecap="round" stroke-linejoin="round"/>
<circle cx="381.9" cy="465.8" r="1.9"/>
<ellipse cx="444.35" cy="458.65" rx="5.62" ry="7.82" fill="none" stroke="#000" stroke-width="2.5" stroke-linecap="round" stroke-linejoin="round"/>
<ellipse cx="470.05" cy="453.02" rx="4.50" ry="2.19" fill="none" stroke="#000" stroke-width="2.5" stroke-linecap="round" stroke-linejoin="round"/><ellipse cx="470.05" cy="461.26" rx="5.62" ry="5.21" fill="none" stroke="#000" stroke-width="2.5" stroke-linecap="round" stroke-linejoin="round"/>
<circle cx="457.2" cy="465.8" r="1.9"/>
<path d="M515.15,454.00 L519.75,450.70 V466.60" fill="none" stroke="#000" stroke-width="2.5" stroke-linecap="round" stroke-linejoin="round"/>
<path d="M550.14,453.17 C548.79,451.45 547.10,450.83 544.85,450.83 C541.48,450.83 539.23,454.74 539.23,461.62 " fill="none" stroke="#000" stroke-width="2.5" stroke-linecap="round" stroke-linejoin="round"/><ellipse cx="544.85" cy="461.62" rx="5.62" ry="4.85" fill="none" stroke="#000" stroke-width="2.5" stroke-linecap="round" stroke-linejoin="round"/>
<circle cx="532.0" cy="465.8" r="1.9"/>
<path d="M589.26,454.74 C589.60,452.23 591.74,450.83 594.44,450.83 C597.48,450.83 599.84,452.39 599.84,455.05 C599.84,457.09 598.60,458.34 596.80,459.75 L588.93,466.47 H600.17" fill="none" stroke="#000" stroke-width="2.5" stroke-linecap="round" stroke-linejoin="round"/>
<path d="M621.83,466.47 V450.83L614.62,461.31 H625.88" fill="none" stroke="#000" stroke-width="2.5" stroke-linecap="round" stroke-linejoin="round"/>
<circle cx="607.4" cy="465.8" r="1.9"/>
<path d="M640.2,465.7 H635.0 V486.7 H640.2 M644.2,468.1 V482.1 M653.6,468.1 L644.6,477.2 M647.8,474.0 L653.9,482.1 M657.3,465.7 H662.5 V486.7 H657.3" class="ks"/>
<path d="M81,937.2 L5,948.5 L81,959.7 Z" fill="#00008a" class="cb"/>
<path d="M607,937.2 L684,948.5 L607,959.7 Z" fill="#780000" class="cb"/>
<rect x="81.0" y="937.2" width="75.6" height="22.5" fill="#3d57d8" class="cb"/>
<rect x="156.6" y="937.2" width="75.1" height="22.5" fill="#13a4f6" class="cb"/>
<rect x="231.7" y="937.2" width="75.1" height="22.5" fill="#92e5fc" class="cb"/>
<rect x="306.8" y="937.2" width="74.7" height="22.5" fill="#fafafa" class="cb"/>
<rect x="381.5" y="937.2" width="75.3" height="22.5" fill="#fed893" class="cb"/>
<rect x="456.8" y="937.2" width="74.8" height="22.5" fill="#ff8c00" class="cb"/>
<rect x="531.6" y="937.2" width="75.4" height="22.5" fill="#ef3e04" class="cb"/>
<line x1="51.8" y1="977.5" x2="68.0" y2="977.5" stroke="#000" stroke-width="2.5"/>
<path d="M74.39,972.74 C74.75,970.23 77.04,968.83 79.93,968.83 C83.18,968.83 85.71,970.39 85.71,973.05 C85.71,975.09 84.39,976.34 82.46,977.75 L74.02,984.48 H86.08" fill="none" stroke="#000" stroke-width="2.5" stroke-linecap="round" stroke-linejoin="round"/>
<path d="M106.93,984.48 V968.83L99.02,979.31 H111.38" fill="none" stroke="#000" stroke-width="2.5" stroke-linecap="round" stroke-linejoin="round"/>
<circle cx="91.9" cy="983.8" r="1.9"/>
<line x1="127.4" y1="977.5" x2="143.6" y2="977.5" stroke="#000" stroke-width="2.5"/>
<path d="M151.65,972.00 L156.25,968.70 V984.60" fill="none" stroke="#000" stroke-width="2.5" stroke-linecap="round" stroke-linejoin="round"/>
<path d="M186.60,971.17 C185.12,969.45 183.27,968.83 180.80,968.83 C177.09,968.83 174.62,972.74 174.62,979.62 " fill="none" stroke="#000" stroke-width="2.5" stroke-linecap="round" stroke-linejoin="round"/><ellipse cx="180.80" cy="979.62" rx="6.17" ry="4.85" fill="none" stroke="#000" stroke-width="2.5" stroke-linecap="round" stroke-linejoin="round"/>
<circle cx="167.5" cy="983.8" r="1.9"/>
<line x1="202.5" y1="977.5" x2="218.7" y2="977.5" stroke="#000" stroke-width="2.5"/>
<ellipse cx="230.75" cy="976.65" rx="6.03" ry="7.82" fill="none" stroke="#000" stroke-width="2.5" stroke-linecap="round" stroke-linejoin="round"/>
<ellipse cx="255.90" cy="971.02" rx="4.94" ry="2.19" fill="none" stroke="#000" stroke-width="2.5" stroke-linecap="round" stroke-linejoin="round"/><ellipse cx="255.90" cy="979.26" rx="6.17" ry="5.21" fill="none" stroke="#000" stroke-width="2.5" stroke-linecap="round" stroke-linejoin="round"/>
<circle cx="242.6" cy="983.8" r="1.9"/>
<line x1="277.6" y1="977.5" x2="293.8" y2="977.5" stroke="#000" stroke-width="2.5"/>
<ellipse cx="305.85" cy="976.65" rx="6.02" ry="7.82" fill="none" stroke="#000" stroke-width="2.5" stroke-linecap="round" stroke-linejoin="round"/>
<path d="M325.20,972.74 C325.57,970.23 327.91,968.83 330.88,968.83 C334.21,968.83 336.80,970.39 336.80,973.05 C336.80,975.09 335.45,976.34 333.47,977.75 L324.83,984.48 H337.18" fill="none" stroke="#000" stroke-width="2.5" stroke-linecap="round" stroke-linejoin="round"/>
<circle cx="317.7" cy="983.8" r="1.9"/>
<ellipse cx="369.05" cy="976.65" rx="5.62" ry="7.82" fill="none" stroke="#000" stroke-width="2.5" stroke-linecap="round" stroke-linejoin="round"/>
<path d="M389.46,972.74 C389.80,970.23 391.94,968.83 394.64,968.83 C397.68,968.83 400.04,970.39 400.04,973.05 C400.04,975.09 398.80,976.34 397.00,977.75 L389.12,984.48 H400.38" fill="none" stroke="#000" stroke-width="2.5" stroke-linecap="round" stroke-linejoin="round"/>
<circle cx="381.9" cy="983.8" r="1.9"/>
<ellipse cx="444.35" cy="976.65" rx="5.62" ry="7.82" fill="none" stroke="#000" stroke-width="2.5" stroke-linecap="round" stroke-linejoin="round"/>
<ellipse cx="470.05" cy="971.02" rx="4.50" ry="2.19" fill="none" stroke="#000" stroke-width="2.5" stroke-linecap="round" stroke-linejoin="round"/><ellipse cx="470.05" cy="979.26" rx="5.62" ry="5.21" fill="none" stroke="#000" stroke-width="2.5" stroke-linecap="round" stroke-linejoin="round"/>
<circle cx="457.2" cy="983.8" r="1.9"/>
<path d="M515.15,972.00 L519.75,968.70 V984.60" fill="none" stroke="#000" stroke-width="2.5" stroke-linecap="round" stroke-linejoin="round"/>
<path d="M550.14,971.17 C548.79,969.45 547.10,968.83 544.85,968.83 C541.48,968.83 539.23,972.74 539.23,979.62 " fill="none" stroke="#000" stroke-width="2.5" stroke-linecap="round" stroke-linejoin="round"/><ellipse cx="544.85" cy="979.62" rx="5.62" ry="4.85" fill="none" stroke="#000" stroke-width="2.5" stroke-linecap="round" stroke-linejoin="round"/>
<circle cx="532.0" cy="983.8" r="1.9"/>
<path d="M589.26,972.74 C589.60,970.23 591.74,968.83 594.44,968.83 C597.48,968.83 599.84,970.39 599.84,973.05 C599.84,975.09 598.60,976.34 596.80,977.75 L588.93,984.48 H600.17" fill="none" stroke="#000" stroke-width="2.5" stroke-linecap="round" stroke-linejoin="round"/>
<path d="M621.83,984.48 V968.83L614.62,979.31 H625.88" fill="none" stroke="#000" stroke-width="2.5" stroke-linecap="round" stroke-linejoin="round"/>
<circle cx="607.4" cy="983.8" r="1.9"/>
<path d="M640.2,983.7 H635.0 V1004.7 H640.2 M644.2,986.1 V1000.1 M653.6,986.1 L644.6,995.2 M647.8,992.0 L653.9,1000.1 M657.3,983.7 H662.5 V1004.7 H657.3" class="ks"/>
<path d="M298.2,3.2 H316.9 M307.7,3.2 V32.3" class="ts"/>
<path d="M324.4,3.3 V12.6" class="ts"/>
<circle cx="337.3" cy="30.2" r="2.8"/>
<path d="M338.4,30.6 C339.4,33.8 338.0,36.2 335.7,37.9" class="ts" stroke-width="3.4"/>
<path d="M372.8,12.8 L380.9,32.2 L389.2,12.8" class="ts" stroke-linejoin="round"/>
<path d="M296.9,521.4 H315.6 M306.4,521.4 V550.5" class="ts"/>
<path d="M323.1,521.5 V530.8" class="ts"/>
<circle cx="336.0" cy="548.4" r="2.8"/>
<path d="M337.1,548.8 C338.1,552.0 336.7,554.4 334.4,556.1" class="ts" stroke-width="3.4"/>
<path d="M373.9,530.8 V544.2 C373.9,548.7 376.7,550.5 380.3,550.5 C383.9,550.5 386.9,548.2 389.0,545.2 M389.0,530.8 V550.8" class="ts"/>
<text transform="matrix(0.18933 0 0 0.18770 7.71 84.82)" font-size="200" font-weight="bold">(a)</text>
<text transform="matrix(0.19068 0 0 0.18556 350.29 83.91)" font-size="200" font-weight="bold">(b)</text>
<text transform="matrix(0.19422 0 0 0.19198 7.46 602.24)" font-size="200" font-weight="bold">(c)</text>
<text transform="matrix(0.19068 0 0 0.18930 350.29 602.05)" font-size="200" font-weight="bold">(d)</text>
<path d="M90.6,65.2 C88.6,60.6 85.6,58.7 81.6,58.7 C75.2,58.7 70.8,64.6 70.8,73.6 C70.8,82.6 75.2,88.5 81.6,88.5 C85.6,88.5 88.6,86.6 90.6,82.0" class="ns"/>
<path d="M100.1,88.4 V58.8 H112.4 C117.2,58.8 119.5,61.8 119.5,65.8 C119.5,69.8 117.2,72.8 112.4,72.8 H100.1 M110.6,72.8 L120.0,88.3" class="ns"/>
<ellipse cx="139.45" cy="64.05" rx="7.75" ry="5.60" class="ns"/>
<ellipse cx="139.45" cy="79.55" rx="9.30" ry="8.80" class="ns"/>
<ellipse cx="167.00" cy="73.40" rx="9.20" ry="15.00" class="ns"/>
<path d="M187.0,75.8 H211.2 M199.1,63.3 V88.4" class="ns"/>
<path d="M407.5,88.3 L418.0,59.3 L428.8,88.3 M412.4,77.6 H424.3" class="ns"/>
<path d="M436.0,88.4 V58.8 H448.0 C452.8,58.8 455.1,61.8 455.1,65.8 C455.1,69.8 452.8,72.8 448.0,72.8 H436.0 M446.4,72.8 L455.6,88.3" class="ns"/>
<ellipse cx="474.65" cy="64.10" rx="7.60" ry="5.30" class="ns"/>
<ellipse cx="474.70" cy="79.30" rx="9.00" ry="9.00" class="ns"/>
<ellipse cx="502.40" cy="73.35" rx="9.20" ry="15.00" class="ns"/>
<path d="M522.6,75.8 H546.8 M534.7,63.3 V88.4" class="ns"/>
<path d="M90.6,583.2 C88.6,578.6 85.6,576.7 81.6,576.7 C75.2,576.7 70.8,582.6 70.8,591.6 C70.8,600.6 75.2,606.5 81.6,606.5 C85.6,606.5 88.6,604.6 90.6,600.0" class="ns"/>
<path d="M100.1,606.4 V576.8 H112.4 C117.2,576.8 119.5,579.8 119.5,583.8 C119.5,587.8 117.2,590.8 112.4,590.8 H100.1 M110.6,590.8 L120.0,606.3" class="ns"/>
<ellipse cx="139.45" cy="582.05" rx="7.75" ry="5.60" class="ns"/>
<ellipse cx="139.45" cy="597.55" rx="9.30" ry="8.80" class="ns"/>
<ellipse cx="167.00" cy="591.40" rx="9.20" ry="15.00" class="ns"/>
<path d="M187.0,593.8 H211.2 M199.1,581.3 V606.4" class="ns"/>
<path d="M407.5,606.3 L418.0,577.3 L428.8,606.3 M412.4,595.6 H424.3" class="ns"/>
<path d="M436.0,606.4 V576.8 H448.0 C452.8,576.8 455.1,579.8 455.1,583.8 C455.1,587.8 452.8,590.8 448.0,590.8 H436.0 M446.4,590.8 L455.6,606.3" class="ns"/>
<ellipse cx="474.65" cy="582.10" rx="7.60" ry="5.30" class="ns"/>
<ellipse cx="474.70" cy="597.30" rx="9.00" ry="9.00" class="ns"/>
<ellipse cx="502.40" cy="591.35" rx="9.20" ry="15.00" class="ns"/>
<path d="M522.6,593.8 H546.8 M534.7,581.3 V606.4" class="ns"/>
</svg>
</body></html>
